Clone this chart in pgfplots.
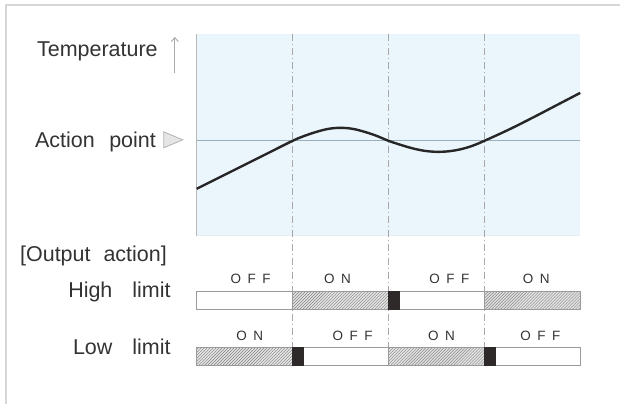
\documentclass[border=0pt]{standalone}
\usepackage{pgfplots}
\pgfplotsset{compat=1.18}
\usepackage{fontspec}
\setmainfont{Liberation Sans}
\usetikzlibrary{patterns,arrows.meta}

\definecolor{bgblue}{HTML}{EBF5FC}
\definecolor{actline}{HTML}{9AAEBB}
\definecolor{curve}{HTML}{262626}
\definecolor{guide}{HTML}{A8A8A8}
\definecolor{barline}{HTML}{9A9A9A}
\definecolor{hatchbg}{HTML}{E2E2E2}
\definecolor{hatchline}{HTML}{858585}
\definecolor{block}{HTML}{2E2A2A}
\definecolor{txt}{HTML}{333333}
\definecolor{frame}{HTML}{D6D6D6}

\newcommand{\bigtxt}{\fontsize{21.5}{25}\selectfont}
\newcommand{\smtxt}{\fontsize{13.5}{15}\selectfont}
\newcommand{\OFF}{O\hspace{6.5pt}F\hspace{6.5pt}F}
\newcommand{\ON}{O\hspace{6.5pt}N}

\begin{document}
\begin{tikzpicture}[
    hatched/.style={draw=barline, line width=0.8pt, fill=hatchbg,
        postaction={pattern=north east lines, pattern color=hatchline}},
    blank/.style={draw=barline, line width=0.8pt, fill=white},
    solid block/.style={draw=block, fill=block},
    lbl/.style={text=txt, font=\bigtxt, inner sep=0pt},
    onoff/.style={text=txt, font=\smtxt, inner sep=0pt, anchor=base},
    guideline/.style={guide, line width=0.8pt, dash pattern=on 7pt off 3pt on 1pt off 3pt},
]
\begin{axis}[
    x=96pt, y=1pt,
    xmin=0, xmax=4,
    ymin=0, ymax=202,
    enlargelimits=false,
    clip=false,
    ticks=none,
    axis line style={draw=none},
    axis background/.style={fill=bgblue},
]

% outer frame of the page and box edges
\path (axis cs:-2.052,236) rectangle (axis cs:4.417,-169);
\draw[frame, line width=1.5pt] (axis cs:-1.99,-169) -- (axis cs:-1.99,231) -- (axis cs:4.417,231);
\draw[barline!70, line width=1pt] (axis cs:0,0) -- (axis cs:0,202);
\draw[bgblue!70!gray!40, line width=0.8pt] (axis cs:0,0) -- (axis cs:4,0);

% dash-dot guides at the switching points
\addplot[guideline] coordinates {(1,202) (1,-130)};
\addplot[guideline] coordinates {(2,202) (2,-130)};
\addplot[guideline] coordinates {(3,202) (3,-130)};

% action point
\addplot[actline, line width=1pt] coordinates {(0,95) (4,95)};

% temperature
\addplot[curve, line width=2.4pt, smooth, tension=0.6] coordinates {
    (0,47) (0.25,59) (0.5,71) (0.75,83) (1.0,95)
    (1.125,100) (1.25,104) (1.375,107) (1.5,108) (1.625,107) (1.75,104) (1.875,100)
    (2.0,95) (2.125,91) (2.25,87.5) (2.375,85) (2.5,84) (2.625,84.5) (2.75,86.5) (2.875,90)
    (3.0,95) (3.25,106) (3.5,118) (3.75,130.5) (4.0,143)
};

% high limit output
\addplot[blank] coordinates {(0,-56) (4,-56) (4,-74) (0,-74)} -- cycle;
\addplot[hatched] coordinates {(1,-56) (2,-56) (2,-74) (1,-74)} -- cycle;
\addplot[hatched] coordinates {(3,-56) (4,-56) (4,-74) (3,-74)} -- cycle;
\addplot[solid block] coordinates {(2,-56) (2.115,-56) (2.115,-74) (2,-74)} -- cycle;

% low limit output
\addplot[blank] coordinates {(0,-112) (4,-112) (4,-130) (0,-130)} -- cycle;
\addplot[hatched] coordinates {(0,-112) (1,-112) (1,-130) (0,-130)} -- cycle;
\addplot[hatched] coordinates {(2,-112) (3,-112) (3,-130) (2,-130)} -- cycle;
\addplot[solid block] coordinates {(1,-112) (1.115,-112) (1.115,-130) (1,-130)} -- cycle;
\addplot[solid block] coordinates {(3,-112) (3.115,-112) (3.115,-130) (3,-130)} -- cycle;

% labels
\node[lbl, anchor=base west] at (axis cs:-1.667,179) {Temperature};
\draw[guide, line width=0.9pt, -{Straight Barb[length=4pt,width=7pt]}] (axis cs:-0.229,163) -- (axis cs:-0.229,199);
\node[lbl, anchor=base west] at (axis cs:-1.6875,88) {Action\hspace{14.5pt}point};
\filldraw[fill=gray!20, draw=gray!60, line width=0.8pt] (axis cs:-0.344,104) -- (axis cs:-0.344,88) -- (axis cs:-0.146,96) -- cycle;
\node[lbl, anchor=base west] at (axis cs:-1.844,-26) {[Output\hspace{13pt}action]};
\node[lbl, anchor=base east] at (axis cs:-0.271,-62) {High\hspace{20pt}limit};
\node[lbl, anchor=base east] at (axis cs:-0.271,-119) {Low\hspace{20pt}limit};

\node[onoff] at (axis cs:0.5625,-48) {\OFF};
\node[onoff] at (axis cs:1.469,-48) {\ON};
\node[onoff] at (axis cs:2.635,-48) {\OFF};
\node[onoff] at (axis cs:3.54,-48) {\ON};
\node[onoff] at (axis cs:0.552,-105) {\ON};
\node[onoff] at (axis cs:1.625,-105) {\OFF};
\node[onoff] at (axis cs:2.552,-105) {\ON};
\node[onoff] at (axis cs:3.583,-105) {\OFF};
\end{axis}
\end{tikzpicture}
\end{document}
